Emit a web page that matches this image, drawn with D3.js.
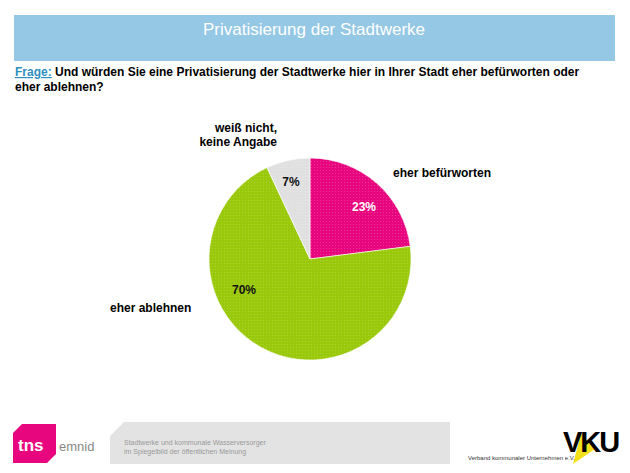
<!DOCTYPE html>
<html><head><meta charset="utf-8">
<script src="https://cdn.jsdelivr.net/npm/d3@7"></script>
<style>
html,body{margin:0;padding:0;background:#fff;}
svg{display:block;font-family:"Liberation Sans",Arial,sans-serif;}
</style></head>
<body>
<svg id="c" width="630" height="473"></svg>
<script>
const categories = ["eher befürworten", "eher ablehnen", "weiß nicht, keine Angabe"];
const values = [23, 70, 7];
const valueLabels = ["23%", "70%", "7%"];
const colors = ["#e8067f", "#99c90a", "#e0e0e0"];

const svg = d3.select("#c");

// pattern defs for dotted texture
const defs = svg.append("defs");
colors.forEach((c, i) => {
  const p = defs.append("pattern").attr("id", "pat" + i).attr("width", 3).attr("height", 3)
    .attr("patternUnits", "userSpaceOnUse");
  p.append("rect").attr("width", 3).attr("height", 3).attr("fill", c);
  p.append("rect").attr("x", 1).attr("y", 1).attr("width", 1).attr("height", 1)
    .attr("fill", "#fff").attr("opacity", 0.18);
});

// header band
svg.append("rect").attr("x", 14).attr("y", 15).attr("width", 601).attr("height", 46).attr("fill", "#95c8e4");
svg.append("text").attr("x", 314).attr("y", 35).attr("text-anchor", "middle")
  .attr("fill", "#fff").attr("font-size", 17).text("Privatisierung der Stadtwerke");

// question
const q = svg.append("text").attr("x", 15).attr("y", 76).attr("font-size", 12).attr("font-weight", "bold");
q.append("tspan").attr("fill", "#2e8fc0").attr("text-decoration", "underline").text("Frage:");
q.append("tspan").attr("fill", "#000").text(" Und würden Sie eine Privatisierung der Stadtwerke hier in Ihrer Stadt eher befürworten oder");
svg.append("text").attr("x", 15).attr("y", 91).attr("font-size", 12).attr("font-weight", "bold").text("eher ablehnen?");

// pie
const cx = 310, cy = 259, r = 101;
const pie = d3.pie().sort(null).value(d => d)(values);
const arc = d3.arc().innerRadius(0).outerRadius(r);
const g = svg.append("g").attr("transform", `translate(${cx},${cy})`);
g.selectAll("path").data(pie).join("path")
  .attr("d", arc).attr("fill", (d, i) => `url(#pat${i})`)
  .attr("stroke", "#fff").attr("stroke-width", 0.6);

// value labels
const valPos = [[364, 211], [244, 294], [291, 186]];
g.selectAll("text.v").data(pie).join("text").attr("class", "v")
  .attr("x", (d, i) => valPos[i][0] - cx)
  .attr("y", (d, i) => valPos[i][1] - cy)
  .attr("text-anchor", "middle").attr("font-size", 12).attr("font-weight", "bold")
  .attr("fill", (d, i) => i === 0 ? "#fff" : "#111")
  .text((d, i) => valueLabels[i]);

// category labels
svg.append("text").attr("x", 393).attr("y", 177).attr("font-size", 12).attr("font-weight", "bold").text(categories[0]);
svg.append("text").attr("x", 110).attr("y", 312).attr("font-size", 12).attr("font-weight", "bold").text(categories[1]);
const wk = svg.append("text").attr("text-anchor", "end").attr("font-size", 12).attr("font-weight", "bold");
wk.append("tspan").attr("x", 277).attr("y", 132).text("weiß nicht,");
wk.append("tspan").attr("x", 277).attr("y", 146).text("keine Angabe");

// footer: tns emnid logo
svg.append("path").attr("d", "M22,424 L56,424 L56,454 L47,463 L13,463 L13,433 Z").attr("fill", "#e8067f");
svg.append("text").attr("x", 18).attr("y", 451).attr("font-size", 17).attr("font-weight", "bold").attr("fill", "#fff").text("tns");
svg.append("text").attr("x", 59).attr("y", 451).attr("font-size", 13).attr("fill", "#888").text("emnid");

// gray box
svg.append("path").attr("d", "M124,422 L450,422 L450,464 L110,464 L110,436 Z").attr("fill", "#e3e3e3");
svg.append("text").attr("x", 124).attr("y", 445).attr("font-size", 7).attr("fill", "#999").text("Stadtwerke und kommunale Wasserversorger");
svg.append("text").attr("x", 124).attr("y", 454).attr("font-size", 7).attr("fill", "#999").text("im Spiegelbild der öffentlichen Meinung");

// VKU logo
svg.append("path").attr("d", "M581,434 L595,449 L573,464 Z").attr("fill", "#f2e01b");
svg.append("text").attr("x", 563).attr("y", 452).attr("font-size", 29).attr("font-weight", "bold").attr("fill", "#000").attr("letter-spacing", -2).text("VKU");
svg.append("text").attr("x", 468).attr("y", 460).attr("font-size", 6).attr("fill", "#333").text("Verband kommunaler Unternehmen e.V.");
</script>
</body></html>
